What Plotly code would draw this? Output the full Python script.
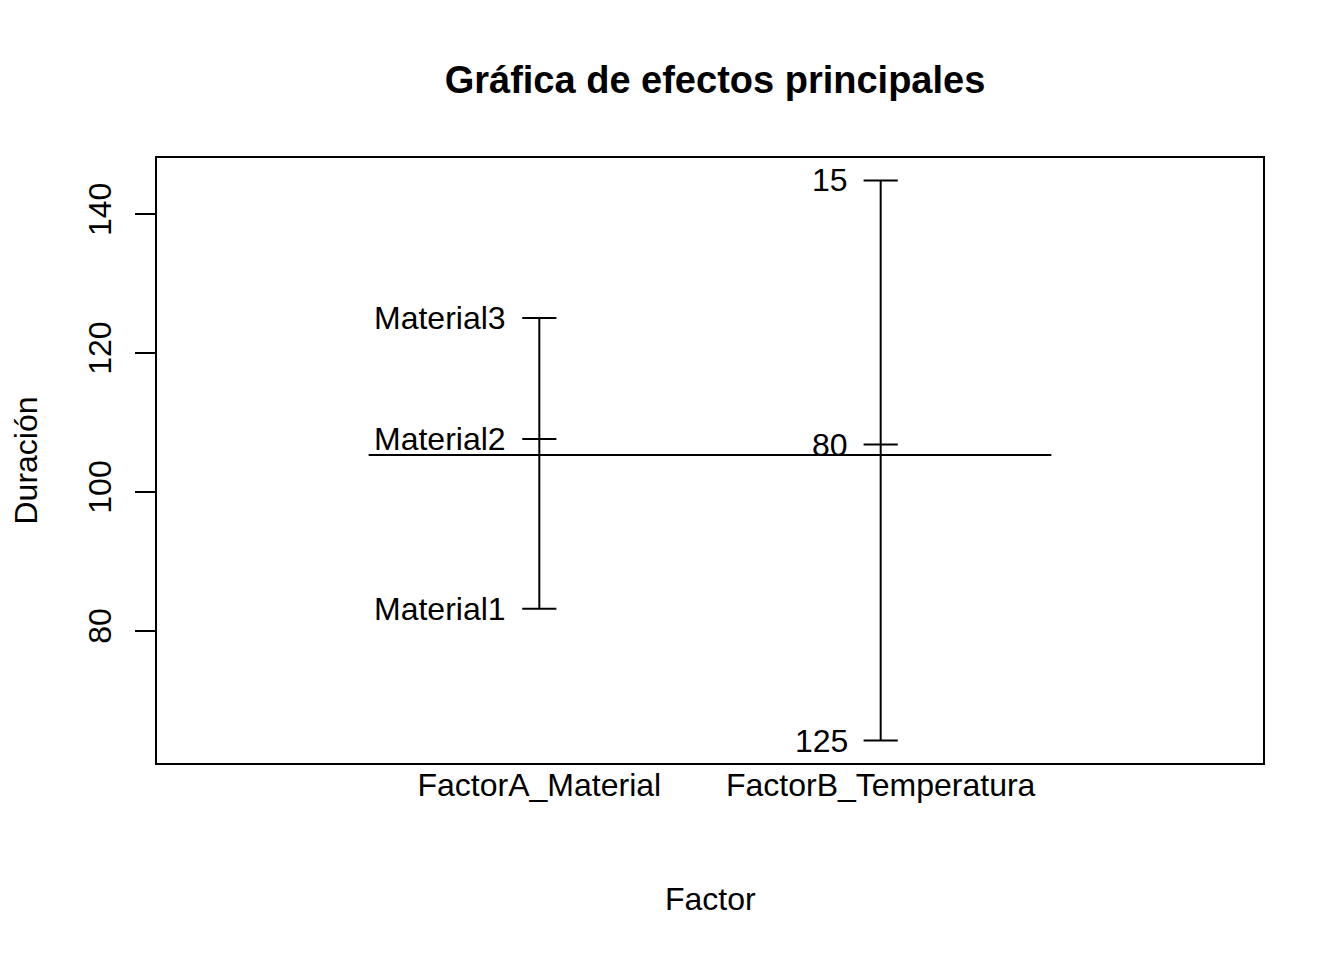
import plotly.graph_objects as go

# ---- data ----
factors = ["FactorA_Material", "FactorB_Temperatura"]
levels_A = ["Material1", "Material2", "Material3"]
means_A = [83.17, 107.6, 125.04]
levels_B = ["15", "80", "125"]
means_B = [144.85, 106.8, 64.17]
grand_mean = 105.3
y_ticks = [80, 100, 120, 140]

title = "Gráfica de efectos principales"
x_title = "Factor"
y_title = "Duración"

FONT = "Liberation Sans, Arial, Helvetica, sans-serif"
FS = 32
half = 0.05  # half-width of level tick marks (data units)

# page has an 8px body margin; figure sized to compensate
OFF = 8
W, H = 1344 - OFF, 960 - OFF

fig = go.Figure()

groups = [(1, levels_A, means_A), (2, levels_B, means_B)]
annotations = []
for pos, labs, vals in groups:
    fig.add_trace(go.Scatter(x=[pos, pos], y=[min(vals), max(vals)], mode="lines",
                             line=dict(color="black", width=2), showlegend=False, hoverinfo="skip"))
    for lab, v in zip(labs, vals):
        fig.add_trace(go.Scatter(x=[pos - half, pos + half], y=[v, v], mode="lines",
                                 line=dict(color="black", width=2), showlegend=False, hoverinfo="skip"))
        annotations.append(dict(x=pos - half, y=v, xref="x", yref="y", text=lab, showarrow=False,
                                xanchor="right", yanchor="middle", xshift=-14,
                                font=dict(family=FONT, size=FS, color="black")))

fig.add_trace(go.Scatter(x=[0.5, 2.5], y=[grand_mean, grand_mean], mode="lines",
                         line=dict(color="black", width=2), showlegend=False, hoverinfo="skip"))

allv = means_A + means_B
lo, hi = min(allv), max(allv)
pad = 0.04 * (hi - lo)
yr = [lo - pad, hi + pad]

annotations.append(dict(x=0.5, y=0, xref="paper", yref="paper",
                        text=x_title, showarrow=False, yshift=-(899 - 763), yanchor="middle",
                        font=dict(family=FONT, size=FS, color="black")))
annotations.append(dict(x=0, y=0.5, xref="paper", yref="paper", text=y_title, showarrow=False,
                        textangle=-90, xanchor="center", yanchor="middle", xshift=-(157 - 25),
                        font=dict(family=FONT, size=FS, color="black")))

fig.update_layout(
    width=W, height=H,
    margin=dict(l=157 - OFF, r=1344 - 1263, t=158 - OFF, b=960 - 763),
    paper_bgcolor="white", plot_bgcolor="white",
    title=dict(text="<b>" + title + "</b>", x=0.5 + 5 / 1106, xref="paper", xanchor="center",
               y=1 - (80 - OFF) / H, yanchor="middle",
               font=dict(family=FONT, size=38, color="black")),
    font=dict(family=FONT, size=FS, color="black"),
    annotations=annotations,
    xaxis=dict(range=[-0.12, 3.12], tickvals=[1, 2], ticktext=factors, ticks="",
               ticklabelstandoff=-7,
               showgrid=False, zeroline=False, showline=True, linecolor="black", linewidth=2,
               mirror=True, tickfont=dict(family=FONT, size=FS, color="black")),
    yaxis=dict(range=yr, tickvals=y_ticks, ticks="outside", ticklen=20, tickwidth=2,
               tickcolor="black", tickangle=-90, ticklabelstandoff=11,
               showgrid=False, zeroline=False, showline=True, linecolor="black", linewidth=2,
               mirror=True, tickfont=dict(family=FONT, size=FS, color="black")),
)

fig.write_html("out.html")
